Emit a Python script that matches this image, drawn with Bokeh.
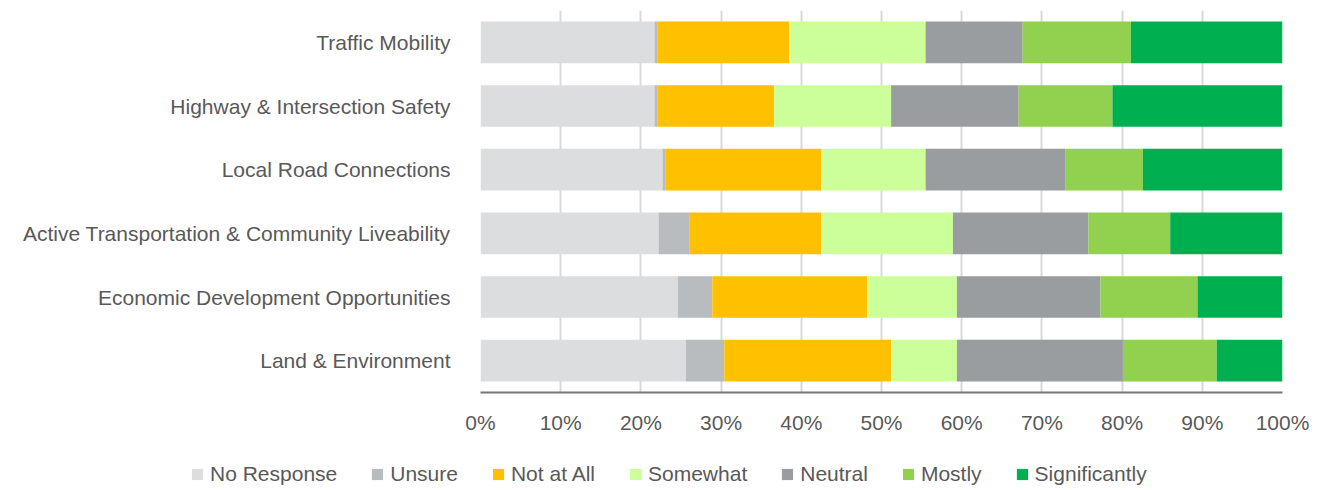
from bokeh.plotting import figure
from bokeh.models import FactorRange, Range1d, FixedTicker, PrintfTickFormatter, Legend, LegendItem, ColumnDataSource
from bokeh.embed import file_html
from bokeh.resources import INLINE

categories = ["Traffic Mobility", "Highway & Intersection Safety", "Local Road Connections",
              "Active Transportation & Community Liveability", "Economic Development Opportunities",
              "Land & Environment"]
series = ["No Response", "Unsure", "Not at All", "Somewhat", "Neutral", "Mostly", "Significantly"]
no_response = [21.7, 21.7, 22.7, 22.2, 24.6, 25.6]
unsure = [0.4, 0.4, 0.4, 3.9, 4.3, 4.8]
not_at_all = [16.4, 14.5, 19.4, 16.4, 19.3, 20.8]
somewhat = [17.0, 14.6, 13.0, 16.4, 11.2, 8.2]
neutral = [12.1, 15.9, 17.4, 16.9, 17.9, 20.7]
mostly = [13.5, 11.7, 9.7, 10.2, 12.1, 11.7]
significantly = [18.9, 21.2, 17.4, 14.0, 10.6, 8.2]
colors = ["#DCDDDF", "#B9BCBF", "#FFC000", "#CCFF99", "#999DA0", "#92D050", "#00B050"]
x_ticks = [0, 10, 20, 30, 40, 50, 60, 70, 80, 90, 100]

FONT = "Liberation Sans"
TXT = "#595959"
FS = "21px"

data = {"cat": categories}
for name, vals in zip(series, [no_response, unsure, not_at_all, somewhat, neutral, mostly, significantly]):
    data[name] = vals
source = ColumnDataSource(data)

# main chart
p = figure(width=1318, height=440, output_backend="svg", toolbar_location=None,
           y_range=FactorRange(factors=list(reversed(categories)), range_padding=0),
           x_range=Range1d(0, 100),
           min_border_left=480, min_border_right=36, min_border_top=10, min_border_bottom=48)
p.outline_line_color = None

p.hbar_stack(series, y="cat", height=0.655, color=colors, source=source, line_color=None)

p.xaxis.ticker = FixedTicker(ticks=x_ticks)
p.xaxis.formatter = PrintfTickFormatter(format="%d%%")
p.xaxis.axis_line_color = "#767676"
p.xaxis.axis_line_width = 2
p.xaxis.major_tick_line_color = None
p.xaxis.minor_tick_line_color = None
p.xaxis.major_label_standoff = 12
p.xaxis.major_label_text_font = FONT
p.xaxis.major_label_text_font_size = FS
p.xaxis.major_label_text_color = TXT

p.yaxis.axis_line_color = None
p.yaxis.major_tick_line_color = None
p.yaxis.minor_tick_line_color = None
p.yaxis.major_label_standoff = 24
p.yaxis.major_label_text_font = FONT
p.yaxis.major_label_text_font_size = FS
p.yaxis.major_label_text_color = TXT

p.ygrid.grid_line_color = None
p.xgrid.grid_line_color = "#D9D9D9"
p.xgrid.grid_line_width = 2

# legend strip: the same stacked series drawn outside the strip's visible x range,
# so only the legend itself shows
lg = figure(width=1318, height=50, output_backend="svg", toolbar_location=None,
            x_axis_type=None, y_axis_type=None,
            y_range=FactorRange(factors=list(reversed(categories))),
            x_range=Range1d(-300, -200), min_border=0)
lg.outline_line_color = None
lg.xgrid.grid_line_color = None
lg.ygrid.grid_line_color = None
lg_renderers = lg.hbar_stack(series, y="cat", height=0.655, color=colors, source=source, line_color=None)

legend = Legend(items=[LegendItem(label=s, renderers=[r]) for s, r in zip(series, lg_renderers)],
                orientation="horizontal", location=(190, 4),
                glyph_width=14, glyph_height=14, label_standoff=6, spacing=33,
                label_text_font=FONT, label_text_font_size=FS, label_text_color=TXT,
                border_line_color=None, background_fill_alpha=0, padding=0, margin=0)
lg.add_layout(legend, "center")

open("out.html", "w").write(file_html([p, lg], INLINE))
